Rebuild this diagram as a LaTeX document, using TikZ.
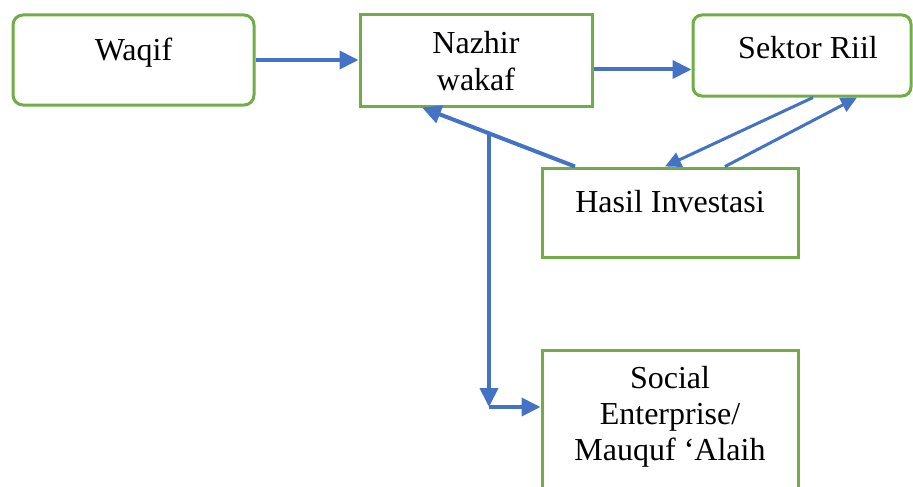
\documentclass[tikz,border=0pt]{standalone}
\usepackage{fontspec}
\setmainfont{Liberation Serif}
\usetikzlibrary{arrows.meta}
\definecolor{boxgreen}{HTML}{70AD47}
\definecolor{flowblue}{HTML}{4472C4}
\begin{document}
\begin{tikzpicture}[x=1pt,y=-1pt,>={Triangle[length=19pt,width=18pt]},
    box/.style={draw=boxgreen, line width=3pt, rectangle, inner sep=0pt, align=center, font=\fontsize{32}{36}\selectfont},
    flow/.style={draw=flowblue, line width=4pt, ->},
    thinflow/.style={draw=flowblue, line width=3pt, >={Triangle[length=16pt,width=15pt]}, ->}]
    \useasboundingbox (0,0) rectangle (913,487);
        \node (waqif) [box, rounded corners=10pt, minimum width=241pt, text height=45pt, text depth=45pt] at (133.5,60) {Waqif};
        \node (nazhir) [box, minimum width=232pt, text height=75pt, text depth=16pt] at (476,60.5) {Nazhir\\wakaf};
        \node (sektor) [box, rounded corners=9pt, minimum width=218pt, text height=44pt, text depth=37pt] at (802,55.5) {\hspace{12pt}Sektor Riil};
        \node (hasil) [box, minimum width=256pt, text height=44pt, text depth=45pt] at (670,212.5) {Hasil Investasi};
        \node (social) [box, minimum width=256pt, text height=110pt, text depth=70pt] at (670,440) {Social\\Enterprise/\\Mauquf ‘Alaih};
        \coordinate (split) at (489,133);
        \coordinate (turn) at (489,407);

        \draw[flow] (waqif) -- (waqif -| nazhir.west);
        \draw[flow] ([yshift=-9pt]nazhir.east) -- ([yshift=-9pt]nazhir.east -| sektor.west);
        \draw[flow] ([xshift=-95pt]hasil.north) -- ([xshift=-54pt]nazhir.south);
        \draw[thinflow] ([xshift=11pt]sektor.south) -- ([xshift=-5pt]hasil.north);
        \draw[thinflow] ([xshift=55pt]hasil.north) -- ([xshift=55pt]sektor.south);
        \draw[flow] (split) -- (turn);
        \draw[flow] (turn) -- (turn -| social.west);
    \end{tikzpicture}
\end{document}
